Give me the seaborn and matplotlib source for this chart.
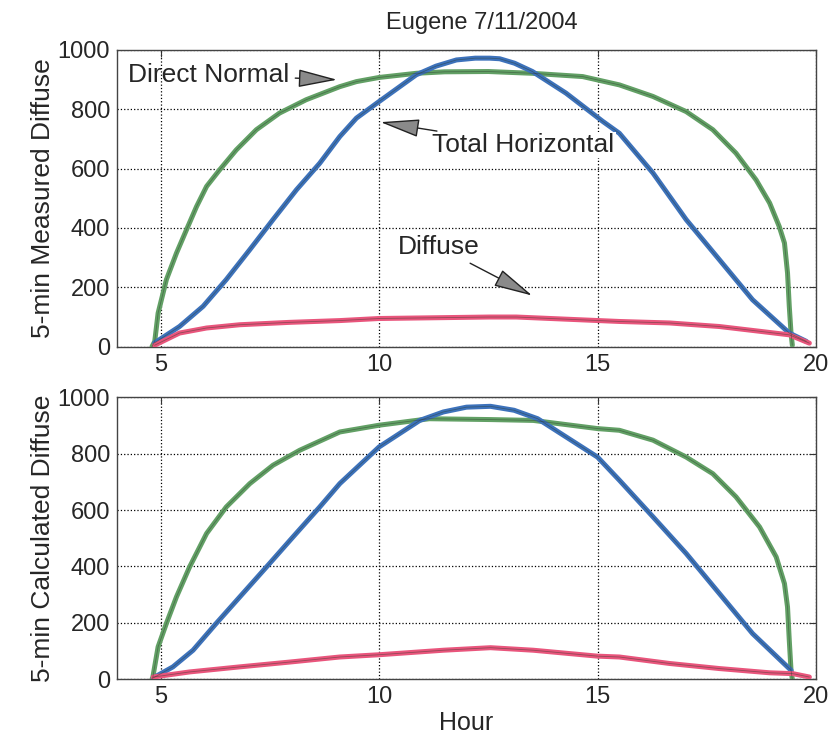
import matplotlib
matplotlib.use("Agg")
import matplotlib.pyplot as plt
import seaborn as sns
import pandas as pd

# measured panel (top)
m_dn_hour = [4.8, 4.863, 4.94, 5.13, 5.36, 5.59, 5.82, 6.05, 6.35, 6.73, 7.19, 7.72, 8.33, 9.10, 9.48,
             10.0, 10.85, 11.5, 12.5, 13.51, 14.66, 15.5, 16.27, 17.03, 17.64, 18.17, 18.63, 18.94,
             19.16, 19.28, 19.35, 19.39, 19.43, 19.46]
m_dn = [0, 18, 113, 226, 315, 394, 472, 540, 596, 663, 731, 787, 832, 876, 893,
        907, 921, 926, 927, 921, 910, 882, 843, 792, 731, 652, 562, 484,
        405, 349, 248, 136, 46, 5]

m_th_hour = [4.86, 5.43, 5.97, 6.50, 7.04, 7.57, 8.11, 8.64, 9.10, 9.48, 10.0, 10.85, 11.3, 11.77,
             12.2, 12.53, 12.76, 13.1, 13.51, 14.28, 15.12, 15.5, 16.27, 17.03, 17.79, 18.55,
             19.39, 19.78]
m_th = [13, 68, 136, 226, 327, 428, 529, 618, 708, 770, 826, 916, 945, 966,
        972, 972, 970, 955, 927, 854, 759, 719, 585, 428, 293, 158,
        46, 18]

m_df_hour = [4.86, 5.43, 6.05, 6.81, 7.95, 9.10, 10.0, 12.53, 13.14, 15.5, 16.65, 17.79, 18.71,
             19.39, 19.85]
m_df = [5, 46, 63, 74, 82, 88, 95, 100, 100, 85, 80, 68, 52, 40, 12]

# calculated panel (bottom)
c_dn_hour = [4.8, 4.82, 4.94, 5.13, 5.36, 5.66, 6.05, 6.50, 7.04, 7.57, 8.18, 9.10, 10.0, 11.15,
             12.55, 13.53, 15.0, 15.5, 16.27, 17.03, 17.64, 18.17, 18.71, 19.09, 19.28, 19.35,
             19.39, 19.43, 19.46]
c_dn = [0, 8, 115, 198, 292, 398, 517, 611, 694, 759, 812, 877, 901, 924,
        921, 918, 889, 883, 848, 788, 729, 647, 540, 434, 339, 256,
        138, 32, 0]

c_th_hour = [4.83, 5.28, 5.74, 6.27, 6.81, 7.42, 8.03, 8.64, 9.10, 10.0, 10.93, 11.47, 12.0,
             12.55, 13.09, 13.63, 15.0, 15.5, 16.27, 17.03, 17.79, 18.55, 19.43]
c_th = [5, 44, 103, 198, 292, 398, 505, 611, 694, 824, 918, 948, 965,
        968, 954, 924, 788, 706, 576, 446, 304, 162, 32]

c_df_hour = [4.83, 5.66, 6.81, 7.95, 9.10, 10.0, 11.47, 12.55, 13.53, 15.0, 15.5, 16.65, 17.79,
             18.94, 19.47, 19.85]
c_df = [8, 26, 44, 61, 79, 87, 103, 112, 103, 82, 79, 56, 38, 23, 20, 8]

green = "#62a065"
blue = "#3d72bb"
pink = "#e9557c"

sns.set_style("white")
plt.rcParams["font.family"] = ["Liberation Sans", "DejaVu Sans"]
plt.rcParams["font.size"] = 17

fig = plt.figure(figsize=(8.33, 7.44), dpi=100)
ax1 = fig.add_axes([0.1405, 0.534, 0.839, 0.399])
ax2 = fig.add_axes([0.1405, 0.087, 0.839, 0.379])

panels = [
    (ax1, (m_dn_hour, m_dn), (m_th_hour, m_th), (m_df_hour, m_df), "5-min Measured Diffuse"),
    (ax2, (c_dn_hour, c_dn), (c_th_hour, c_th), (c_df_hour, c_df), "5-min Calculated Diffuse"),
]

for ax, dn, th, df, ylab in panels:
    for (h, v), col in [(dn, green), (th, blue), (df, pink)]:
        d = pd.DataFrame({"Hour": h, "W": v})
        sns.lineplot(data=d, x="Hour", y="W", ax=ax, color=col, linewidth=3.6, zorder=3)
        sns.lineplot(data=d, x="Hour", y="W", ax=ax, color="#2a3a2a", linewidth=0.6, alpha=0.45, zorder=4)
    ax.set_xlim(4, 20)
    ax.set_ylim(0, 1000)
    ax.set_xticks([5, 10, 15, 20])
    ax.set_yticks([0, 200, 400, 600, 800, 1000])
    ax.grid(True, linestyle=":", color="black", linewidth=0.9)
    ax.tick_params(direction="in", top=True, right=True, length=5, labelsize=17, color="#333333", pad=5)
    for s in ax.spines.values():
        s.set_color("#444444")
        s.set_linewidth(1.0)
    ax.set_ylabel(ylab, fontsize=19, labelpad=2)
    ax.set_xlabel("")

ax1.set_title("Eugene 7/11/2004", fontsize=17, pad=15, x=0.522)
ax2.set_xlabel("Hour", fontsize=18, labelpad=2)

arrow = dict(arrowstyle="-|>,head_length=1.3,head_width=0.3", fc="#8a8a8a", ec="#222222", lw=1.0)
ax1.annotate("Direct Normal", xy=(9.1, 899), xytext=(4.25, 916), va="center", ha="left",
             arrowprops=arrow, fontsize=19, zorder=6)
ax1.annotate("Total Horizontal", xy=(9.97, 758), xytext=(11.22, 680), va="center", ha="left",
             arrowprops=arrow, fontsize=19, zorder=6,
             bbox=dict(boxstyle="square,pad=0.05", fc="white", ec="none"))
ax1.annotate("Diffuse", xy=(13.56, 168), xytext=(10.42, 337), va="center", ha="left",
             arrowprops=arrow, fontsize=19, zorder=6)

fig.savefig("out.png", dpi=100)
